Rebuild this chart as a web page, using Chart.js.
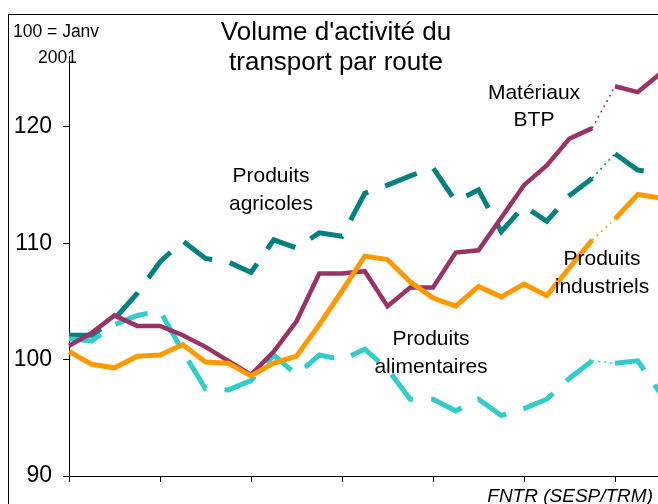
<!DOCTYPE html>
<html>
<head>
<meta charset="utf-8">
<script src="https://cdn.jsdelivr.net/npm/chart.js@4/dist/chart.umd.min.js"></script>
<style>
html,body{margin:0;padding:0;overflow:hidden;background:#fff;width:658px;height:504px}
#wrap{position:absolute;left:0;top:0;width:700px;height:520px}
</style>
</head>
<body>
<div id="wrap"><canvas id="c"></canvas></div>
<script>
// Quarterly index, 100 = January 2001
const quarters = [
  'T1 2001','T2 2001','T3 2001','T4 2001',
  'T1 2002','T2 2002','T3 2002','T4 2002',
  'T1 2003','T2 2003','T3 2003','T4 2003',
  'T1 2004','T2 2004','T3 2004','T4 2004',
  'T1 2005','T2 2005','T3 2005','T4 2005',
  'T1 2006','T2 2006','T3 2006','T4 2006',
  'T1 2007','T2 2007','T3 2007'
];
const materiauxBTP = [101.2,102.3,103.8,102.9,102.9,102.1,101.1,99.9,98.7,100.7,103.3,107.4,107.4,107.6,104.6,106.2,106.2,109.2,109.4,112.2,115.0,116.7,119.0,119.9,123.5,123.0,124.6];
const produitsAgricoles = [102.1,102.1,103.5,105.7,108.4,110.2,108.7,108.4,107.5,110.3,109.6,110.9,110.6,114.3,115.0,115.8,116.5,113.6,114.6,111.0,113.2,111.9,114.1,115.6,117.7,116.3,116.0];
const produitsIndustriels = [100.7,99.6,99.3,100.3,100.4,101.3,99.8,99.7,98.6,99.7,100.3,103.0,105.9,108.9,108.6,106.7,105.3,104.6,106.3,105.4,106.5,105.5,107.9,110.3,112.1,114.2,113.9];
const produitsAlimentaires = [101.8,101.6,103.0,103.8,104.2,100.7,97.5,97.4,98.2,100.4,98.7,100.4,100.0,100.9,99.2,96.6,96.6,95.6,96.6,95.2,95.8,96.6,98.4,99.9,99.7,99.9,97.1];
const yTicks = [90,100,110,120];
const breakIndex = 23; // series break between T4 2006 and T1 2007

const FONT = "'Liberation Sans', Arial, sans-serif";

const breakSeg = {
  borderDash: ctx => ctx.p0DataIndex === breakIndex ? [2,4] : undefined,
  borderWidth: ctx => ctx.p0DataIndex === breakIndex ? 1.5 : undefined
};

const texts = [
  {lines:["Volume d'activité du","transport par route"], x:336, y:40, size:26, lh:30, align:'center'},
  {lines:["100 = Janv"], x:13, y:37, size:17.5, lh:0, align:'left'},
  {lines:["2001"], x:38, y:63, size:17.5, lh:0, align:'left'},
  {lines:["Matériaux","BTP"], x:534, y:99, size:21, lh:27, align:'center'},
  {lines:["Produits","agricoles"], x:271, y:182, size:21, lh:28, align:'center'},
  {lines:["Produits","industriels"], x:602, y:265, size:21, lh:28, align:'center'},
  {lines:["Produits","alimentaires"], x:431, y:345, size:21, lh:28, align:'center'},
  {lines:["FNTR (SESP/TRM)"], x:653, y:502, size:19, lh:0, align:'right', italic:true}
];

const decor = {
  id:'decor',
  beforeDraw(chart){
    const c = chart.ctx;
    c.save();
    c.strokeStyle = '#000';
    c.lineWidth = 1;
    c.strokeRect(8.5, 14.5, 800, 600);
    c.restore();
  },
  afterDraw(chart){
    const c = chart.ctx;
    c.save();
    c.fillStyle = '#000';
    c.textBaseline = 'alphabetic';
    texts.forEach(t => {
      c.font = (t.italic ? 'italic ' : '') + t.size + 'px ' + FONT;
      c.textAlign = t.align;
      t.lines.forEach((l,i) => c.fillText(l, t.x, t.y + i*t.lh));
    });
    c.restore();
  }
};

new Chart(document.getElementById('c'), {
  type:'line',
  data:{
    labels: quarters,
    datasets:[
      {label:'Produits industriels', data:produitsIndustriels, borderColor:'#FF9900', borderWidth:5, order:0, segment:breakSeg},
      {label:'Matériaux BTP', data:materiauxBTP, borderColor:'#993366', borderWidth:4.5, order:1, segment:breakSeg},
      {label:'Produits alimentaires', data:produitsAlimentaires, borderColor:'#33CCCC', borderWidth:5, borderDash:[34,18], order:2, segment:breakSeg},
      {label:'Produits agricoles', data:produitsAgricoles, borderColor:'#008080', borderWidth:5, borderDash:[34,18], order:3, segment:breakSeg}
    ]
  },
  options:{
    responsive:true,
    maintainAspectRatio:false,
    animation:false,
    layout:{padding:{left:0, top:56, right:39.5, bottom:34}},
    elements:{point:{radius:0}, line:{tension:0, borderCapStyle:'butt', fill:false}},
    plugins:{legend:{display:false}, tooltip:{enabled:false}, title:{display:false}},
    scales:{
      x:{
        offset:false,
        afterFit: s => { s.height = 10; },
        ticks:{display:false},
        grid:{drawOnChartArea:false, tickLength:6, tickColor: ctx => ctx.index % 4 === 0 ? '#000' : 'rgba(0,0,0,0)'},
        border:{color:'#000', width:1}
      },
      y:{
        min:90, max:126.1,
        afterFit: s => { s.width = 69; },
        afterBuildTicks: s => { s.ticks = yTicks.map(v => ({value:v})); },
        ticks:{font:{family:FONT, size:23}, color:'#000', padding:11},
        grid:{drawOnChartArea:false, tickLength:6, tickColor:'#000'},
        border:{color:'#000', width:1}
      }
    }
  },
  plugins:[decor]
});
</script>
</body>
</html>
